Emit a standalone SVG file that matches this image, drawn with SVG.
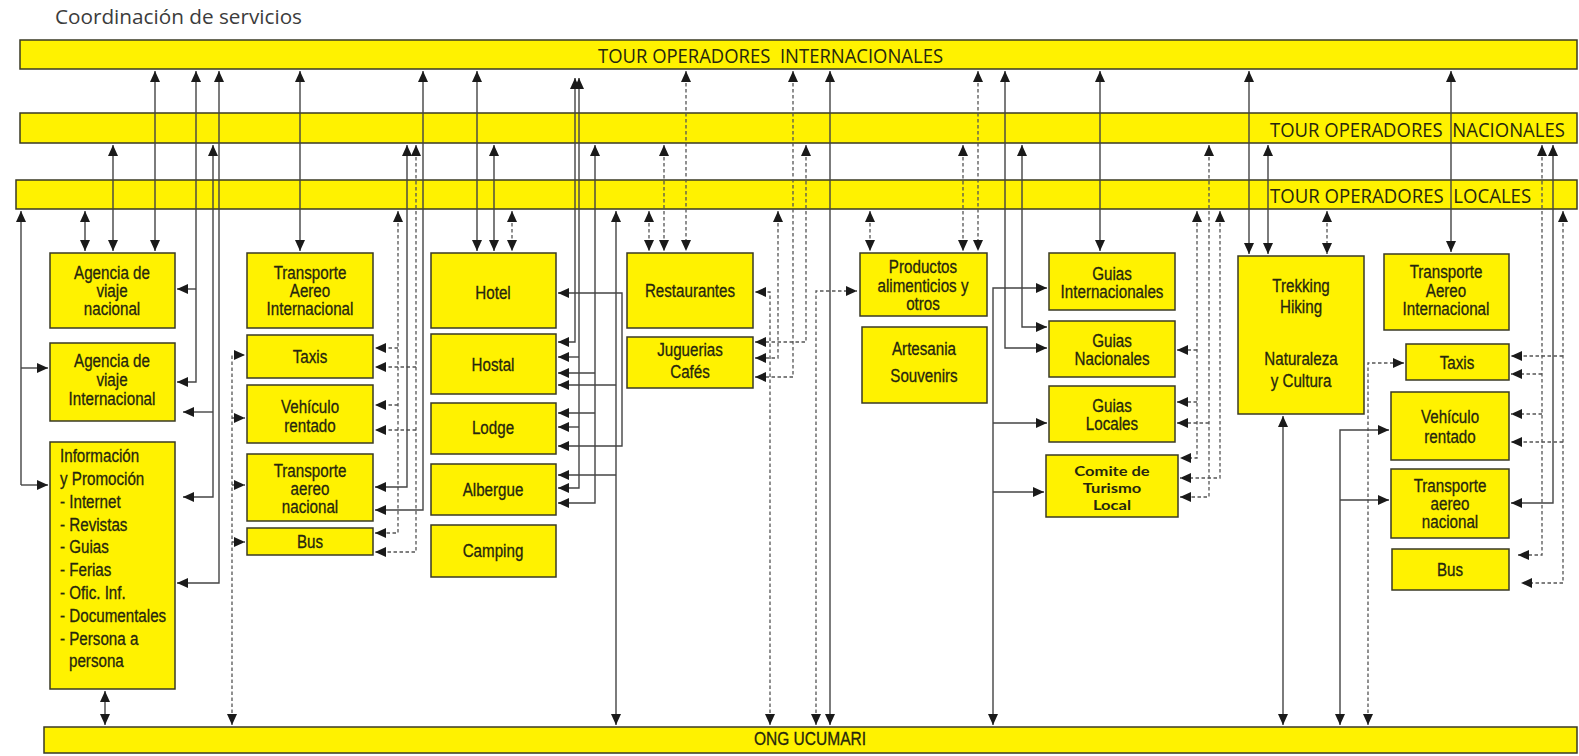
<svg xmlns="http://www.w3.org/2000/svg" width="1579" height="756" viewBox="0 0 1579 756">
  <defs>
    <marker id="ah" markerUnits="userSpaceOnUse" markerWidth="11" markerHeight="10" refX="11" refY="5" orient="auto-start-reverse">
      <path d="M0,0 L11,5 L0,10 z" fill="#1a1a1a"/>
    </marker>
  </defs>
  <style>
    .bar, .box { fill:#FFF200; stroke:#3a3a24; stroke-width:1.5; }
    .t { font-family:"Liberation Sans", Arial, sans-serif; font-size:18.5px; fill:#26260f; stroke:#26260f; stroke-width:0.3; text-anchor:middle; }
    .tl { font-family:"Liberation Sans", Arial, sans-serif; font-size:18.5px; fill:#26260f; stroke:#26260f; stroke-width:0.3; text-anchor:start; }
    .h { font-family:"Open Sans", "Liberation Sans", sans-serif; font-size:20px; fill:#26260f; }
    .cm { font-family:Lato, "Liberation Sans", sans-serif; font-size:14px; font-weight:700; fill:#26260f; text-anchor:middle; }
    .title { font-family:"Open Sans", "Liberation Sans", sans-serif; font-size:20px; fill:#3c3c3c; }
    .c { fill:none; stroke:#444; stroke-width:1.4; }
    .d { fill:none; stroke:#555; stroke-width:1.3; stroke-dasharray:3.5 2.5; }
    .b { marker-start:url(#ah); marker-end:url(#ah); }
    .e { marker-end:url(#ah); }
  </style>

  <rect width="1579" height="756" fill="#ffffff"/>

  <text class="title" x="55" y="24" textLength="247" lengthAdjust="spacingAndGlyphs">Coordinación de servicios</text>

  <!-- operator levels -->
  <g id="bar-internacionales">
    <rect class="bar" x="20" y="40" width="1557" height="29"/>
    <text class="h" x="598" y="63" textLength="345" lengthAdjust="spacingAndGlyphs" xml:space="preserve">TOUR OPERADORES  INTERNACIONALES</text>
  </g>
  <g id="bar-nacionales">
    <rect class="bar" x="20" y="113" width="1557" height="30"/>
    <text class="h" transform="translate(1270 0) scale(0.925 1)" x="0" y="137" xml:space="preserve">TOUR OPERADORES  NACIONALES</text>
  </g>
  <g id="bar-locales">
    <rect class="bar" x="16" y="180" width="1561" height="29"/>
    <text class="h" transform="translate(1270 0) scale(0.93 1)" x="0" y="203" xml:space="preserve">TOUR OPERADORES  LOCALES</text>
  </g>
  <g id="bar-ong">
    <rect class="bar" x="44" y="727" width="1533" height="26"/>
    <text class="t" transform="translate(810 0) scale(0.84 1)" x="0" y="745" font-size="19">ONG UCUMARI</text>
  </g>

  <!-- service nodes -->
  <g id="agencia-nacional">
    <rect class="box" x="50" y="253" width="125" height="75"/>
    <text class="t" transform="translate(112 0) scale(0.82 1)"><tspan x="0" y="279">Agencia de</tspan><tspan x="0" y="297">viaje</tspan><tspan x="0" y="315">nacional</tspan></text>
  </g>
  <g id="agencia-internacional">
    <rect class="box" x="50" y="343" width="125" height="78"/>
    <text class="t" transform="translate(112 0) scale(0.82 1)"><tspan x="0" y="367">Agencia de</tspan><tspan x="0" y="386">viaje</tspan><tspan x="0" y="405">Internacional</tspan></text>
  </g>
  <g id="informacion">
    <rect class="box" x="50" y="442" width="125" height="247"/>
    <text class="tl" transform="translate(60 0) scale(0.82 1)">
      <tspan x="0" y="462">Información</tspan>
      <tspan x="0" y="485">y Promoción</tspan>
      <tspan x="0" y="508">- Internet</tspan>
      <tspan x="0" y="531">- Revistas</tspan>
      <tspan x="0" y="553">- Guias</tspan>
      <tspan x="0" y="576">- Ferias</tspan>
      <tspan x="0" y="599">- Ofic. Inf.</tspan>
      <tspan x="0" y="622">- Documentales</tspan>
      <tspan x="0" y="645">- Persona a</tspan>
      <tspan x="11" y="667">persona</tspan>
    </text>
  </g>

  <g id="aereo-int-1">
    <rect class="box" x="247" y="253" width="126" height="75"/>
    <text class="t" transform="translate(310 0) scale(0.82 1)" font-size="18"><tspan x="0" y="279">Transporte</tspan><tspan x="0" y="297">Aereo</tspan><tspan x="0" y="315">Internacional</tspan></text>
  </g>
  <g id="taxis-1">
    <rect class="box" x="247" y="335" width="126" height="43"/>
    <text class="t" transform="translate(310 0) scale(0.82 1)" x="0" y="363">Taxis</text>
  </g>
  <g id="vehiculo-1">
    <rect class="box" x="247" y="385" width="126" height="58"/>
    <text class="t" transform="translate(310 0) scale(0.82 1)"><tspan x="0" y="413">Vehículo</tspan><tspan x="0" y="432">rentado</tspan></text>
  </g>
  <g id="aereo-nac-1">
    <rect class="box" x="247" y="454" width="126" height="67"/>
    <text class="t" transform="translate(310 0) scale(0.82 1)"><tspan x="0" y="477">Transporte</tspan><tspan x="0" y="495">aereo</tspan><tspan x="0" y="513">nacional</tspan></text>
  </g>
  <g id="bus-1">
    <rect class="box" x="247" y="528" width="126" height="27"/>
    <text class="t" transform="translate(310 0) scale(0.82 1)" x="0" y="548">Bus</text>
  </g>

  <g id="hotel">
    <rect class="box" x="431" y="253" width="125" height="75"/>
    <text class="t" transform="translate(493 0) scale(0.82 1)" x="0" y="299">Hotel</text>
  </g>
  <g id="hostal">
    <rect class="box" x="431" y="334" width="125" height="60"/>
    <text class="t" transform="translate(493 0) scale(0.82 1)" x="0" y="371">Hostal</text>
  </g>
  <g id="lodge">
    <rect class="box" x="431" y="403" width="125" height="51"/>
    <text class="t" transform="translate(493 0) scale(0.82 1)" x="0" y="434">Lodge</text>
  </g>
  <g id="albergue">
    <rect class="box" x="431" y="464" width="125" height="51"/>
    <text class="t" transform="translate(493 0) scale(0.82 1)" x="0" y="496">Albergue</text>
  </g>
  <g id="camping">
    <rect class="box" x="431" y="525" width="125" height="52"/>
    <text class="t" transform="translate(493 0) scale(0.82 1)" x="0" y="557">Camping</text>
  </g>

  <g id="restaurantes">
    <rect class="box" x="627" y="253" width="126" height="75"/>
    <text class="t" transform="translate(690 0) scale(0.82 1)" x="0" y="297">Restaurantes</text>
  </g>
  <g id="juguerias">
    <rect class="box" x="627" y="337" width="126" height="51"/>
    <text class="t" transform="translate(690 0) scale(0.82 1)"><tspan x="0" y="356">Juguerias</tspan><tspan x="0" y="378">Cafés</tspan></text>
  </g>

  <g id="productos">
    <rect class="box" x="860" y="253" width="127" height="63"/>
    <text class="t" transform="translate(923 0) scale(0.82 1)"><tspan x="0" y="273">Productos</tspan><tspan x="0" y="292">alimenticios y</tspan><tspan x="0" y="310">otros</tspan></text>
  </g>
  <g id="artesania">
    <rect class="box" x="862" y="327" width="125" height="76"/>
    <text class="t" transform="translate(924 0) scale(0.82 1)"><tspan x="0" y="355">Artesania</tspan><tspan x="0" y="382">Souvenirs</tspan></text>
  </g>

  <g id="guias-int">
    <rect class="box" x="1049" y="253" width="126" height="57"/>
    <text class="t" transform="translate(1112 0) scale(0.82 1)"><tspan x="0" y="280">Guias</tspan><tspan x="0" y="298">Internacionales</tspan></text>
  </g>
  <g id="guias-nac">
    <rect class="box" x="1049" y="321" width="126" height="56"/>
    <text class="t" transform="translate(1112 0) scale(0.82 1)"><tspan x="0" y="347">Guias</tspan><tspan x="0" y="365">Nacionales</tspan></text>
  </g>
  <g id="guias-loc">
    <rect class="box" x="1049" y="386" width="126" height="56"/>
    <text class="t" transform="translate(1112 0) scale(0.82 1)"><tspan x="0" y="412">Guias</tspan><tspan x="0" y="430">Locales</tspan></text>
  </g>
  <g id="comite">
    <rect class="box" x="1046" y="455" width="132" height="62"/>
    <text class="cm" transform="translate(1112 0) scale(1.18 1)"><tspan x="0" y="476">Comite de</tspan><tspan x="0" y="493">Turismo</tspan><tspan x="0" y="510">Local</tspan></text>
  </g>

  <g id="trekking">
    <rect class="box" x="1238" y="256" width="126" height="158"/>
    <text class="t" transform="translate(1301 0) scale(0.82 1)"><tspan x="0" y="292">Trekking</tspan><tspan x="0" y="313">Hiking</tspan><tspan x="0" y="365">Naturaleza</tspan><tspan x="0" y="387">y Cultura</tspan></text>
  </g>

  <g id="aereo-int-2">
    <rect class="box" x="1384" y="254" width="125" height="76"/>
    <text class="t" transform="translate(1446 0) scale(0.82 1)"><tspan x="0" y="278">Transporte</tspan><tspan x="0" y="297">Aereo</tspan><tspan x="0" y="315">Internacional</tspan></text>
  </g>
  <g id="taxis-2">
    <rect class="box" x="1406" y="344" width="103" height="36"/>
    <text class="t" transform="translate(1457 0) scale(0.82 1)" x="0" y="369">Taxis</text>
  </g>
  <g id="vehiculo-2">
    <rect class="box" x="1391" y="392" width="118" height="68"/>
    <text class="t" transform="translate(1450 0) scale(0.82 1)"><tspan x="0" y="423">Vehículo</tspan><tspan x="0" y="443">rentado</tspan></text>
  </g>
  <g id="aereo-nac-2">
    <rect class="box" x="1391" y="469" width="118" height="69"/>
    <text class="t" transform="translate(1450 0) scale(0.82 1)"><tspan x="0" y="492">Transporte</tspan><tspan x="0" y="510">aereo</tspan><tspan x="0" y="528">nacional</tspan></text>
  </g>
  <g id="bus-2">
    <rect class="box" x="1392" y="549" width="117" height="41"/>
    <text class="t" transform="translate(1450 0) scale(0.82 1)" x="0" y="576">Bus</text>
  </g>

  <!-- connectors -->
  <g id="connectors">
    <!-- agencies and information -->
    <path class="c e" d="M21,485 V211"/>
    <path class="c e" d="M21,368 H48"/>
    <path class="c e" d="M21,485 H48"/>
    <path class="c b" d="M85,211 V251"/>
    <path class="c b" d="M113,145 V251"/>
    <path class="c b" d="M155,71 V251"/>
    <path class="c b" d="M196,71 V382 H177"/>
    <path class="c e" d="M196,289 H177"/>
    <path class="c b" d="M213,145 V497 H183"/>
    <path class="c e" d="M213,412 H183"/>
    <path class="c b" d="M219,71 V583 H177"/>
    <path class="c b" d="M105,691 V725"/>

    <!-- transport, left group -->
    <path class="c b" d="M300,71 V251"/>
    <path class="d b" d="M232,725 V355 H245"/>
    <path class="d e" d="M232,418 H245"/>
    <path class="d e" d="M232,485 H245"/>
    <path class="d e" d="M232,542 H245"/>
    <path class="d b" d="M398,211 V533 H375"/>
    <path class="d e" d="M398,348 H375"/>
    <path class="d e" d="M398,405 H375"/>
    <path class="d b" d="M416,145 V552 H375"/>
    <path class="d e" d="M416,367 H375"/>
    <path class="d e" d="M416,430 H375"/>
    <path class="c b" d="M407,145 V487 H375"/>
    <path class="c b" d="M423,71 V510 H375"/>

    <!-- lodging -->
    <path class="c b" d="M477,71 V251"/>
    <path class="c b" d="M494,145 V251"/>
    <path class="d b" d="M512,211 V251"/>
    <path class="c b" d="M575,78 V342 H558"/>
    <path class="c b" d="M579,78 V488 H558"/>
    <path class="c e" d="M579,357 H558"/>
    <path class="c e" d="M579,427 H558"/>
    <path class="c b" d="M595,145 V503 H558"/>
    <path class="c e" d="M595,373 H558"/>
    <path class="c e" d="M595,413 H558"/>
    <path class="c b" d="M616,211 V725"/>
    <path class="c e" d="M616,385 H558"/>
    <path class="c e" d="M616,475 H558"/>
    <path class="c b" d="M558,293 H622 V446 H558"/>

    <!-- food -->
    <path class="d b" d="M649,211 V251"/>
    <path class="d b" d="M664,145 V251"/>
    <path class="d b" d="M686,71 V251"/>
    <path class="d b" d="M770,725 V292 H755"/>
    <path class="d b" d="M778,211 V358 H755"/>
    <path class="d b" d="M806,145 V342 H755"/>
    <path class="d b" d="M793,71 V377 H755"/>
    <path class="d b" d="M816,725 V291 H857"/>
    <path class="c b" d="M830,71 V725"/>
    <path class="d b" d="M870,211 V251"/>
    <path class="d b" d="M963,145 V251"/>
    <path class="d b" d="M978,71 V251"/>

    <!-- guides -->
    <path class="c b" d="M993,725 V288 H1047"/>
    <path class="c e" d="M993,423 H1047"/>
    <path class="c e" d="M993,492 H1044"/>
    <path class="c b" d="M1005,71 V348 H1047"/>
    <path class="c b" d="M1022,145 V327 H1047"/>
    <path class="c b" d="M1100,71 V251"/>
    <path class="d b" d="M1197,211 V458 H1180"/>
    <path class="d e" d="M1197,350 H1177"/>
    <path class="d e" d="M1197,402 H1177"/>
    <path class="d b" d="M1209,145 V497 H1180"/>
    <path class="d e" d="M1209,423 H1177"/>
    <path class="d b" d="M1220,211 V478 H1180"/>

    <!-- trekking -->
    <path class="c b" d="M1249,71 V254"/>
    <path class="c b" d="M1268,145 V254"/>
    <path class="d b" d="M1327,211 V254"/>
    <path class="c b" d="M1283,416 V725"/>

    <!-- transport, right group -->
    <path class="c b" d="M1451,71 V252"/>
    <path class="d b" d="M1368,725 V363 H1404"/>
    <path class="c b" d="M1340,725 V430 H1389"/>
    <path class="c e" d="M1340,500 H1389"/>
    <path class="d b" d="M1542,145 V555 H1518"/>
    <path class="d e" d="M1542,374 H1511"/>
    <path class="d e" d="M1542,414 H1511"/>
    <path class="c b" d="M1553,145 V503 H1511"/>
    <path class="d b" d="M1563,211 V583 H1521"/>
    <path class="d e" d="M1563,356 H1511"/>
    <path class="d e" d="M1563,442 H1511"/>
  </g>
</svg>
